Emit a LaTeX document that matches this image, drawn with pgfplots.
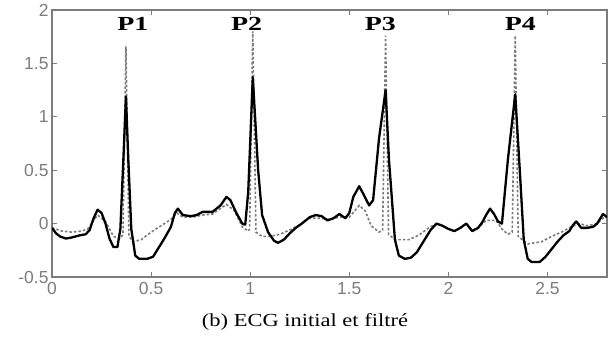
\documentclass[border=0pt]{standalone}
\usepackage{pgfplots}
\pgfplotsset{compat=1.18}
\usepackage{fontspec}
\setmainfont{Liberation Serif}
\newfontfamily\ticksans{Liberation Sans}
\newfontfamily\capfont[FakeStretch=1.22]{Liberation Serif}
\newfontfamily\pfont[FakeStretch=1.4]{Liberation Serif}
\definecolor{axgray}{HTML}{7C7C7C}
\definecolor{filtgray}{HTML}{7A7A7A}
\begin{document}
\begin{tikzpicture}
\begin{axis}[
  scale only axis, width=555bp, height=267bp,
  xmin=0, xmax=2.8, ymin=-0.5, ymax=2,
  xtick={0,0.5,1,1.5,2,2.5}, ytick={-0.5,0,0.5,1,1.5,2},
  xticklabels={0,0.5,1,1.5,2,2.5},
  yticklabels={-0.5,0,0.5,1,1.5,2},
  tick align=inside, major tick length=5bp,
  axis line style={axgray, line width=1.5bp},
  tick style={axgray, line width=1bp},
  ticklabel style={font=\ticksans\fontsize{17.5}{19}\selectfont, text=axgray},
  xticklabel style={yshift=-2bp},
  clip=true,
]
\addplot[filtgray, line width=1.6bp, dash pattern=on 2.5bp off 2bp] coordinates {
(0,-0.04) (0.05,-0.07) (0.10,-0.08) (0.15,-0.07) (0.18,-0.05) (0.23,0.08) (0.27,0.02)
(0.31,-0.12) (0.345,-0.14) (0.358,-0.10) (0.373,1.66) (0.388,-0.12) (0.41,-0.17)
(0.45,-0.15) (0.50,-0.08) (0.55,-0.02) (0.60,0.04) (0.63,0.10) (0.66,0.06) (0.71,0.06)
(0.76,0.08) (0.81,0.09) (0.88,0.18) (0.92,0.12) (0.96,-0.03) (0.99,-0.07) (0.997,-0.05)
(1.013,1.80) (1.029,-0.08) (1.06,-0.12) (1.10,-0.12) (1.15,-0.10) (1.20,-0.06)
(1.25,-0.01) (1.30,0.05) (1.35,0.05) (1.40,0.04) (1.45,0.06) (1.50,0.06) (1.55,0.17)
(1.58,0.12) (1.61,-0.02) (1.65,-0.08) (1.668,-0.06) (1.683,1.76) (1.698,-0.10)
(1.73,-0.15) (1.80,-0.15) (1.85,-0.11) (1.90,-0.04) (1.94,0.0) (1.97,-0.02) (2.00,-0.05)
(2.03,-0.07) (2.06,-0.04) (2.09,0.0) (2.12,-0.06) (2.15,-0.04) (2.19,0.03) (2.24,0.03)
(2.27,-0.05) (2.30,-0.10) (2.322,-0.08) (2.337,1.76) (2.352,-0.12) (2.40,-0.19)
(2.47,-0.17) (2.52,-0.12) (2.57,-0.08) (2.62,-0.03) (2.66,0.0) (2.70,-0.02) (2.75,0.0)
(2.78,0.05) (2.80,0.06)
};
\addplot[black, line width=2.3bp, line join=round] coordinates {
(0,-0.04) (0.02,-0.09) (0.04,-0.12) (0.07,-0.14) (0.10,-0.13) (0.14,-0.11) (0.17,-0.10)
(0.19,-0.06) (0.21,0.05) (0.23,0.13) (0.25,0.10) (0.27,0.0) (0.29,-0.14) (0.31,-0.22)
(0.33,-0.22) (0.345,-0.05) (0.36,0.6) (0.373,1.19) (0.385,0.6) (0.40,-0.05) (0.42,-0.30)
(0.44,-0.33) (0.48,-0.33) (0.51,-0.31) (0.54,-0.22) (0.57,-0.13) (0.60,-0.03) (0.62,0.10)
(0.635,0.14) (0.66,0.08) (0.70,0.07) (0.73,0.08) (0.76,0.11) (0.81,0.11) (0.85,0.17)
(0.88,0.25) (0.90,0.22) (0.93,0.10) (0.96,0.0) (0.975,-0.01) (0.99,0.3) (1.013,1.37)
(1.04,0.5) (1.06,0.08) (1.09,-0.08) (1.12,-0.16) (1.14,-0.18) (1.17,-0.15) (1.20,-0.09)
(1.23,-0.04) (1.26,0.0) (1.30,0.06) (1.33,0.08) (1.36,0.07) (1.39,0.03) (1.42,0.05)
(1.45,0.09) (1.48,0.05) (1.50,0.10) (1.52,0.25) (1.55,0.35) (1.57,0.28) (1.60,0.17)
(1.62,0.22) (1.65,0.8) (1.683,1.25) (1.70,0.6) (1.73,-0.15) (1.75,-0.30) (1.78,-0.33)
(1.81,-0.32) (1.84,-0.27) (1.88,-0.15) (1.91,-0.06) (1.94,0.0) (1.97,-0.02) (2.00,-0.05)
(2.03,-0.07) (2.06,-0.04) (2.09,0.0) (2.12,-0.07) (2.15,-0.04) (2.17,0.01) (2.19,0.08)
(2.21,0.14) (2.23,0.09) (2.25,0.02) (2.27,0.0) (2.30,0.6) (2.337,1.21) (2.36,0.5)
(2.38,-0.15) (2.40,-0.33) (2.42,-0.36) (2.46,-0.36) (2.49,-0.31) (2.52,-0.24)
(2.55,-0.17) (2.58,-0.11) (2.61,-0.07) (2.63,-0.01) (2.645,0.02) (2.67,-0.04)
(2.70,-0.04) (2.73,-0.03) (2.75,0.0) (2.78,0.09) (2.80,0.06)
};
\node[font=\pfont\bfseries\fontsize{20}{22}\selectfont] at (axis cs:0.408,1.87) {P1};
\node[font=\pfont\bfseries\fontsize{20}{22}\selectfont] at (axis cs:0.982,1.87) {P2};
\node[font=\pfont\bfseries\fontsize{20}{22}\selectfont] at (axis cs:1.657,1.87) {P3};
\node[font=\pfont\bfseries\fontsize{20}{22}\selectfont] at (axis cs:2.363,1.87) {P4};
\end{axis}
\node[font=\capfont\fontsize{18.5}{21}\selectfont] at (253bp,-45bp) {(b) ECG initial et filtré};
\path[use as bounding box] (-52bp,-61bp) rectangle (564bp,277bp);
\end{tikzpicture}
\end{document}
